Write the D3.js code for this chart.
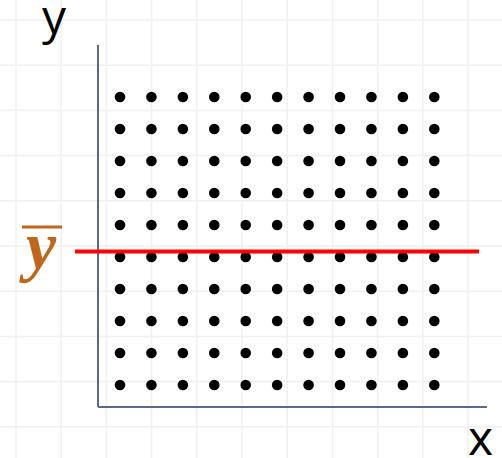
<!DOCTYPE html>
<html>
<head>
<meta charset="utf-8">
<script src="https://cdn.jsdelivr.net/npm/d3@7"></script>
<style>
  html, body { margin: 0; padding: 0; background: #fff; }
  svg { display: block; }
</style>
</head>
<body>
<div id="chart"></div>
<script>
// grid of points: 11 x-values by 10 y-values, plus the mean line
const xValues = [1, 2, 3, 4, 5, 6, 7, 8, 9, 10, 11];
const yValues = [1, 2, 3, 4, 5, 6, 7, 8, 9, 10];
const yMean = 5.17;
const axisLabels = { x: "x", y: "y" };

const width = 502, height = 458;
const svg = d3.select("#chart").append("svg")
  .attr("width", width).attr("height", height);

// faint background grid
const gridStep = 45.2;
const gx = d3.range(16, width, gridStep);
const gy = d3.range(20, height, gridStep);
svg.append("g").selectAll("line").data(gx).enter().append("line")
  .attr("x1", d => d).attr("x2", d => d).attr("y1", 0).attr("y2", height)
  .attr("stroke", "#f0f0f0").attr("stroke-width", 1.5);
svg.append("g").selectAll("line").data(gy).enter().append("line")
  .attr("y1", d => d).attr("y2", d => d).attr("x1", 0).attr("x2", width)
  .attr("stroke", "#f0f0f0").attr("stroke-width", 1.5);

const x = d3.scaleLinear().domain([1, 11]).range([120, 434.3]);
const y = d3.scaleLinear().domain([1, 10]).range([385, 97]);

// axes (plain lines, no ticks)
const axisColor = "#5b6a88";
const x0 = 98, yBottom = 407;
svg.append("line").attr("x1", x0).attr("x2", x0).attr("y1", 45).attr("y2", yBottom)
  .attr("stroke", axisColor).attr("stroke-width", 2);
svg.append("line").attr("x1", x0).attr("x2", 487).attr("y1", yBottom).attr("y2", yBottom)
  .attr("stroke", axisColor).attr("stroke-width", 2);

// points
const pts = [];
yValues.forEach(yv => xValues.forEach(xv => pts.push({ x: xv, y: yv })));
svg.append("g").selectAll("circle").data(pts).enter().append("circle")
  .attr("cx", d => x(d.x)).attr("cy", d => y(d.y)).attr("r", 5.3)
  .attr("fill", "#000");

// mean line
svg.append("line")
  .attr("x1", 75).attr("x2", 479)
  .attr("y1", y(yMean)).attr("y2", y(yMean))
  .attr("stroke", "#ff0000").attr("stroke-width", 4);

// labels
svg.append("text").attr("x", 42).attr("y", 34)
  .attr("font-family", "Open Sans, sans-serif").attr("font-size", 48)
  .attr("fill", "#000").text(axisLabels.y);
svg.append("text").attr("x", 468).attr("y", 455)
  .attr("font-family", "Open Sans, sans-serif").attr("font-size", 48)
  .attr("fill", "#000").text(axisLabels.x);

// y-bar label
const barColor = "#c0661c";
svg.append("text").attr("x", 26).attr("y", 269)
  .attr("font-family", "Liberation Serif, serif").attr("font-size", 68)
  .attr("font-style", "italic").attr("font-weight", "bold")
  .attr("fill", barColor).text("y");
svg.append("line").attr("x1", 22).attr("x2", 62).attr("y1", 227).attr("y2", 227)
  .attr("stroke", barColor).attr("stroke-width", 3);
</script>
</body>
</html>
